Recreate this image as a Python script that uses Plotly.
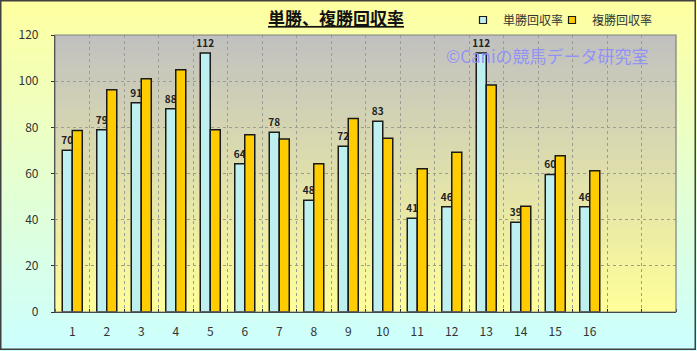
import plotly.graph_objects as go

# ---- data ----
categories = list(range(1, 17))
tansho = [70.1, 78.9, 90.6, 88.0, 112.2, 64.2, 77.9, 48.4, 71.8, 82.6, 40.6, 45.6, 112.2, 38.9, 59.6, 45.6]
fukusho = [78.6, 96.3, 101.1, 105.0, 78.9, 76.8, 75.0, 64.2, 83.8, 75.3, 62.1, 69.2, 98.3, 45.8, 67.7, 61.2]
series_names = ["単勝回収率", "複勝回収率"]
series_colors = ["#BFF0F0", "#FFCC00"]
y_ticks = [0, 20, 40, 60, 80, 100, 120]
title_text = "単勝、複勝回収率"
watermark = "©Caniの競馬データ研究室"

W, H = 697, 351
ML, MR, MT, MB = 55, 21, 35, 39
PW, PH = W - ML - MR, H - MT - MB

def px_x(x):
    return (x - ML) / PW

def px_y(y):
    return (H - MB - y) / PH

def lerp(c1, c2, t):
    return "rgb(%d,%d,%d)" % tuple(round(a + (b - a) * t) for a, b in zip(c1, c2))

FONT = "Noto Sans CJK JP"
OUTLINE = "#1a1a1a"

fig = go.Figure()
fig.add_trace(go.Bar(
    x=categories, y=tansho, name=series_names[0], showlegend=False,
    marker=dict(color=series_colors[0], line=dict(color=OUTLINE, width=1.5)),
    text=[f"{v:.0f}" for v in tansho], textposition="outside",
    textfont=dict(size=10, color="#222", family=FONT),
    texttemplate="<b>%{text}</b>",
    cliponaxis=False, constraintext="none",
))
fig.add_trace(go.Bar(
    x=categories, y=fukusho, name=series_names[1], showlegend=False,
    marker=dict(color=series_colors[1], line=dict(color=OUTLINE, width=1.5)),
))
# legend entries (small square keys), one legend box each so they can be spaced like the original
for name, col, lg in zip(series_names, series_colors, ["legend", "legend2"]):
    fig.add_trace(go.Scatter(
        x=[None], y=[None], mode="markers", name=name, legend=lg,
        marker=dict(symbol="square", size=7, color=col, line=dict(color=OUTLINE, width=1.2)),
    ))

shapes = []
# figure background gradient (yellow -> light cyan)
N = 70
top_c, bot_c = (255, 255, 160), (204, 255, 255)
for i in range(N):
    y0 = H * i / N
    y1 = H * (i + 1) / N + 0.6
    shapes.append(dict(type="rect", xref="paper", yref="paper", layer="below",
                       x0=px_x(0), x1=px_x(W), y0=px_y(y0), y1=px_y(y1),
                       fillcolor=lerp(top_c, bot_c, (i + 0.5) / N), line=dict(width=0)))
# plot-area gradient (grey -> pale yellow)
ptop, pbot = (192, 192, 192), (255, 255, 153)
for i in range(N):
    shapes.append(dict(type="rect", xref="x domain", yref="y domain", layer="below",
                       x0=0, x1=1, y0=1 - i / N, y1=1 - (i + 1) / N - 0.004,
                       fillcolor=lerp(ptop, pbot, (i + 0.5) / N), line=dict(width=0)))
# plot area border
shapes.append(dict(type="rect", xref="x domain", yref="y domain", layer="above",
                   x0=0, x1=1, y0=0, y1=1, line=dict(color="#808080", width=1.2)))
# outer border
shapes.append(dict(type="rect", xref="paper", yref="paper", layer="above",
                   x0=px_x(0.75), x1=px_x(W - 1.75), y0=px_y(0.75), y1=px_y(H - 1.75),
                   line=dict(color="#404040", width=1.5)))

GRID = "#9c9c92"
legend_style = dict(orientation="h", xanchor="left", y=px_y(20), yanchor="middle",
                    font=dict(size=12, color="#333", family=FONT), bgcolor="rgba(0,0,0,0)",
                    itemwidth=30)

fig.update_layout(
    width=W, height=H,
    margin=dict(l=ML, r=MR, t=MT, b=MB, pad=0, autoexpand=False),
    paper_bgcolor="#E6FFD8",
    plot_bgcolor="rgba(0,0,0,0)",
    barmode="group", bargap=0.42, bargroupgap=0,
    font=dict(family=FONT, size=12, color="#333"),
    title=dict(text="<b><span style='text-decoration:underline'>" + title_text + "</span></b>",
               x=336 / W, xanchor="center", y=1 - 19 / H, yanchor="middle",
               font=dict(size=17, color="#111", family=FONT)),
    showlegend=True,
    legend=dict(x=px_x(463), **legend_style),
    legend2=dict(x=px_x(552), **legend_style),
    shapes=shapes,
    annotations=[dict(text=watermark, xref="paper", yref="paper",
                      x=px_x(547), y=px_y(56), xanchor="center", yanchor="middle",
                      showarrow=False, font=dict(size=17, color="rgba(140,140,255,0.9)", family=FONT))],
    xaxis=dict(range=[0.5, 18.5], tickvals=categories, ticktext=[str(c) for c in categories],
               showgrid=False, showline=True, linecolor="#111", linewidth=1.2,
               ticks="", ticklabelstandoff=8, tickfont=dict(size=12, color="#333"),
               minor=dict(tick0=0.5, dtick=1, showgrid=True, gridcolor=GRID, griddash="dot",
                          gridwidth=1, ticks="inside", ticklen=3, tickcolor="#222"),
               zeroline=False, fixedrange=True),
    yaxis=dict(range=[0, 120], tickvals=y_ticks, showgrid=True, gridcolor=GRID, griddash="dot",
               gridwidth=1, showline=True, linecolor="#111", linewidth=1.2,
               ticks="outside", ticklen=3, tickcolor="#333", ticklabelstandoff=10,
               tickfont=dict(size=12, color="#333"), zeroline=False, fixedrange=True),
)

fig.write_html("out.html")
